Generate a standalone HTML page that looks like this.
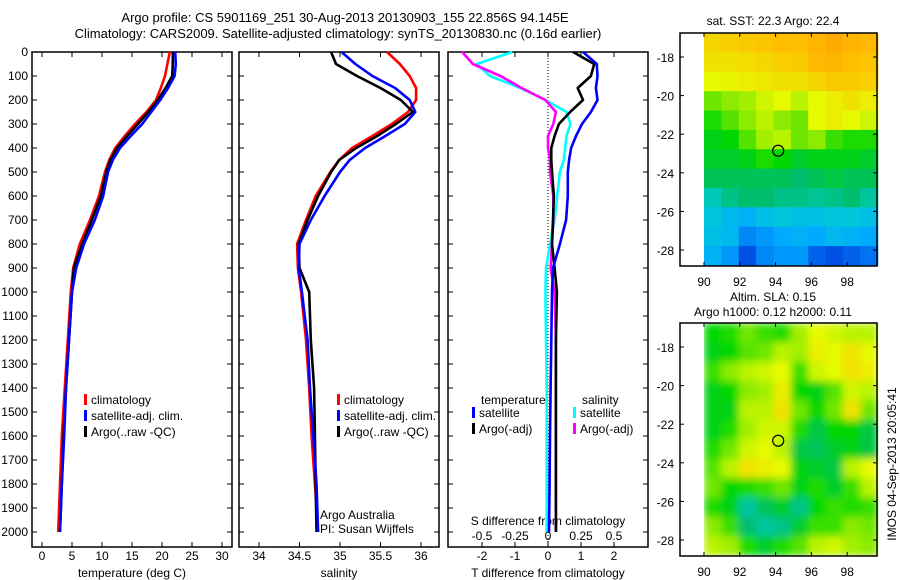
<!DOCTYPE html>
<html><head><meta charset="utf-8"><style>
body{margin:0;background:#fff;}
svg{display:block;font-family:"Liberation Sans",sans-serif;font-size:12px;}
</style></head><body>
<svg id="c" width="900" height="580" viewBox="0 0 900 580">
<text x="345" y="22" text-anchor="middle" font-size="13">Argo profile: CS 5901169_251 30-Aug-2013 20130903_155 22.856S 94.145E</text>
<text x="338" y="38" text-anchor="middle" font-size="13">Climatology: CARS2009. Satellite-adjusted climatology: synTS_20130830.nc (0.16d earlier)</text>
<g id="g"></g>
</svg>
<script>
const depths=[0,50,100,150,200,250,300,350,400,450,500,600,700,800,900,1000,1200,1400,1600,1800,2000];
const tClim=[21.3,20.9,20.5,19.8,19,17.4,15.5,13.8,12.2,11.2,10.5,9.5,8,6.3,5.2,4.8,4.3,3.8,3.3,3,2.7];
const tSat=[22.2,22.3,22.1,21,19.7,18.2,16.7,14.8,13,11.8,11,10.2,8.8,7,5.7,5,4.5,4,3.7,3.3,3];
const tArgo=[21.8,21.8,21.7,20.6,19.3,17.7,16,14.2,12.5,11.4,10.7,9.8,8.3,6.7,5.3,5,4.5,4,3.6,3.3,3];
const sClim=[35.58,35.74,35.86,35.94,35.94,35.84,35.64,35.4,35.15,34.99,34.88,34.7,34.58,34.47,34.48,34.52,34.58,34.62,34.65,34.69,34.73];
const sSat=[35.02,35.19,35.4,35.68,35.86,35.93,35.8,35.56,35.31,35.12,35.0,34.81,34.64,34.5,34.49,34.53,34.6,34.63,34.67,34.71,34.73];
const sArgo=[34.89,34.95,35.21,35.5,35.75,35.9,35.69,35.46,35.2,34.99,34.89,34.73,34.6,34.49,34.5,34.62,34.64,34.68,34.69,34.7,34.71];
const dTsat=[1.06,1.48,1.5,1.45,1.5,1.3,1.03,0.85,0.7,0.64,0.6,0.6,0.55,0.36,0.15,0.12,0.1,0.08,0.06,0.05,0.03];
const dTargo=[0.76,1.4,1.3,0.9,1.06,0.67,0.33,0.2,0.1,0.1,0.12,0.18,0.15,0.12,0.2,0.27,0.24,0.24,0.24,0.24,0.24];
const dSsat=[-0.27,-0.54,-0.44,-0.21,-0.02,0.14,0.17,0.14,0.13,0.12,0.09,0.07,0.05,0.015,-0.015,-0.02,-0.015,-0.01,-0.01,-0.01,-0.01];
const dSargo=[-0.65,-0.57,-0.36,-0.2,-0.02,0.06,0.04,0,0,0.015,0.015,0.04,0.04,0.03,0.02,0.05,0.06,0.06,0.06,0.06,0.06];
const depthTicks=[0,100,200,300,400,500,600,700,800,900,1000,1100,1200,1300,1400,1500,1600,1700,1800,1900,2000];
const tTicks=[0,5,10,15,20,25,30];
const sTicks=[34,34.5,35,35.5,36];
const dTTicks=[-2,-1,0,1,2];
const dSTicks=[-0.5,-0.25,0,0.25,0.5];
const dSTickLabels=["-0.5","-0.25","0","0.25","0.5"];
const lonTicks=[90,92,94,96,98];
const latTicks=[-18,-20,-22,-24,-26,-28];
const sstGrid=[
[0.82,0.83,0.84,0.85,0.86,0.86,0.88,0.9,0.88,0.87],
[0.8,0.8,0.81,0.82,0.83,0.84,0.87,0.88,0.86,0.85],
[0.76,0.77,0.78,0.79,0.8,0.8,0.82,0.84,0.84,0.83],
[0.66,0.68,0.7,0.74,0.76,0.72,0.76,0.78,0.8,0.78],
[0.6,0.64,0.68,0.72,0.68,0.66,0.76,0.78,0.76,0.74],
[0.56,0.58,0.64,0.7,0.72,0.66,0.68,0.62,0.6,0.6],
[0.54,0.54,0.56,0.6,0.58,0.54,0.56,0.56,0.56,0.54],
[0.5,0.5,0.5,0.5,0.5,0.48,0.5,0.52,0.5,0.5],
[0.42,0.46,0.48,0.48,0.46,0.46,0.45,0.46,0.48,0.44],
[0.38,0.34,0.32,0.36,0.38,0.36,0.36,0.38,0.38,0.36],
[0.36,0.34,0.26,0.28,0.3,0.32,0.3,0.34,0.32,0.3],
[0.32,0.28,0.2,0.26,0.28,0.28,0.22,0.2,0.22,0.24]];
const slaGrid=[
[0.58,0.6,0.66,0.62,0.6,0.7,0.76,0.74,0.72,0.72],
[0.56,0.58,0.64,0.66,0.72,0.7,0.78,0.76,0.8,0.76],
[0.62,0.68,0.72,0.74,0.76,0.62,0.74,0.76,0.8,0.78],
[0.56,0.58,0.68,0.7,0.78,0.58,0.56,0.64,0.74,0.72],
[0.56,0.56,0.72,0.72,0.8,0.66,0.58,0.66,0.8,0.66],
[0.56,0.6,0.7,0.74,0.74,0.6,0.52,0.58,0.58,0.52],
[0.6,0.66,0.74,0.76,0.72,0.52,0.5,0.54,0.56,0.52],
[0.64,0.72,0.8,0.78,0.76,0.56,0.54,0.52,0.72,0.76],
[0.66,0.58,0.6,0.62,0.66,0.56,0.6,0.54,0.62,0.72],
[0.6,0.56,0.44,0.5,0.54,0.46,0.58,0.62,0.6,0.62],
[0.68,0.62,0.48,0.44,0.46,0.54,0.62,0.62,0.68,0.66],
[0.72,0.7,0.6,0.54,0.6,0.64,0.72,0.74,0.7,0.68]];
const argoLon=94.145, argoLat=-22.856;

const NS="http://www.w3.org/2000/svg";
const G=document.getElementById('g');
function el(t,a,p){const e=document.createElementNS(NS,t);for(const k in a)e.setAttribute(k,a[k]);(p||G).appendChild(e);return e;}
function txt(x,y,s,a,p){const e=el('text',Object.assign({x:x,y:y},a||{}),p);e.textContent=s;return e;}
const yD=d=>52+d*0.24;
const xT=t=>42+t*6.0;
const xS=s=>259+(s-34)*81;
const xDT=t=>548+t*33;
const xDS=s=>548+s*132;

function frame(x0,name){
  const r=el('rect',{x:x0,y:52,width:200,height:495,fill:'none',stroke:'#000','stroke-width':1.5});
  
  depthTicks.forEach(d=>{el('line',{x1:x0,x2:x0+5,y1:yD(d),y2:yD(d),stroke:'#000'});el('line',{x1:x0+200,x2:x0+195,y1:yD(d),y2:yD(d),stroke:'#000'});});
}
frame(32,'temperature-panel');frame(239,'salinity-panel');frame(448,'difference-panel');
depthTicks.forEach(d=>{const t=txt(28,yD(d)+4,String(d),{'text-anchor':'end'});});
function xticks(arr,f,labels,y,top){arr.forEach((v,i)=>{const x=f(v);el('line',{x1:x,x2:x,y1:547,y2:542,stroke:'#000'});if(top)el('line',{x1:x,x2:x,y1:52,y2:57,stroke:'#000'});const t=txt(x,y,labels?labels[i]:String(v),{'text-anchor':'middle'});});}
xticks(tTicks,xT,null,560,true);
xticks(sTicks,xS,null,560,true);
xticks(dTTicks,xDT,null,560,true);
dSTicks.forEach((v,i)=>{const t=txt(xDS(v),540,dSTickLabels[i],{'text-anchor':'middle'});});
let t;
t=txt(132,577,'temperature (deg C)',{'text-anchor':'middle'});
t=txt(339,577,'salinity',{'text-anchor':'middle'});
t=txt(548,577,'T difference from climatology',{'text-anchor':'middle'});
t=txt(548,525,'S difference from climatology',{'text-anchor':'middle'});
el('line',{x1:xDT(0),x2:xDT(0),y1:52,y2:547,stroke:'#000','stroke-dasharray':'1,2'});

function line(vals,fx,color,name){
  const p=vals.map((v,i)=>fx(v).toFixed(1)+','+yD(depths[i]).toFixed(1)).join(' ');
  const e=el('polyline',{points:p,fill:'none',stroke:color,'stroke-width':2.6,'stroke-linejoin':'round'});
  
}
line(tClim,xT,'#f00','temperature-climatology-line');line(tArgo,xT,'#000','temperature-argo-line');line(tSat,xT,'#00f','temperature-satellite-line');
line(sClim,xS,'#f00','salinity-climatology-line');line(sArgo,xS,'#000','salinity-argo-line');line(sSat,xS,'#00f','salinity-satellite-line');
line(dSsat,xDS,'#0ff','s-diff-satellite-line');line(dSargo,xDS,'#f0f','s-diff-argo-line');
line(dTargo,xDT,'#000','t-diff-argo-line');line(dTsat,xDT,'#00f','t-diff-satellite-line');

function legend(x,y,items,name){items.forEach((it,i)=>{const yy=y+i*16;el('rect',{x:x,y:yy-10,width:3,height:11,fill:it[1]});const e=txt(x+7,yy,it[0]);});}
legend(84,404,[['climatology','#f00'],['satellite-adj. clim.','#00f'],['Argo(..raw -QC)','#000']],'temperature-legend');
legend(337,404,[['climatology','#f00'],['satellite-adj. clim.','#00f'],['Argo(..raw -QC)','#000']],'salinity-legend');
t=txt(481,404,'temperature');
t=txt(582,404,'salinity');
legend(472,417,[['satellite','#00f'],['Argo(-adj)','#000']],'t-diff-legend');
legend(573,417,[['satellite','#0ff'],['Argo(-adj)','#f0f']],'s-diff-legend');
t=txt(320,519,'Argo Australia');
t=txt(320,533,'PI: Susan Wijffels');

function cmap(v){
  const st=[[0,[0,0,160]],[0.2,[0,80,230]],[0.3,[0,170,255]],[0.4,[0,205,210]],[0.48,[0,190,110]],[0.58,[0,215,0]],[0.68,[140,235,0]],[0.76,[230,250,0]],[0.86,[255,190,0]],[1,[255,120,0]]];
  for(let i=1;i<st.length;i++){if(v<=st[i][0]){const a=st[i-1],b=st[i],f=(v-a[0])/(b[0]-a[0]);return 'rgb('+a[1].map((c,k)=>Math.round(c+(b[1][k]-c)*f)).join(',')+')';}}
  return 'rgb(255,120,0)';
}
function map(y0,grid,name,blur){
  const xL=lon=>704+(lon-90)*17.9;
  const yL=lat=>y0+24+(-18-lat)*19.3;
  const top=-16.76, bot=-28.8;
  const g=el('g',{});
  if(blur){const f=el('filter',{id:'bl',x:0,y:0,width:1,height:1});el('feGaussianBlur',{stdDeviation:4,edgeMode:'duplicate'},f);g.setAttribute('filter','url(#bl)');}
  const rows=grid.length,cols=grid[0].length,lonW=(99.7-90)/cols,latH=(top-bot)/rows;
  grid.forEach((row,r)=>row.forEach((v,c)=>{
    const x=xL(90+c*lonW),y=yL(top-r*latH);
    const e=el('rect',{x:x.toFixed(1),y:y.toFixed(1),width:(lonW*17.9+0.6).toFixed(1),height:(latH*19.3+0.6).toFixed(1),fill:cmap(v)},g);
    
  }));
  const fr=el('rect',{x:680,y:y0,width:197,height:233,fill:'none',stroke:'#000','stroke-width':1.5});
  
  latTicks.forEach(l=>{const y=yL(l);el('line',{x1:680,x2:684,y1:y,y2:y,stroke:'#000'});el('line',{x1:877,x2:873,y1:y,y2:y,stroke:'#000'});const e=txt(674,y+5,String(l),{'text-anchor':'end'});});
  lonTicks.forEach(l=>{const x=xL(l);el('line',{x1:x,x2:x,y1:y0+233,y2:y0+229,stroke:'#000'});el('line',{x1:x,x2:x,y1:y0,y2:y0+4,stroke:'#000'});const e=txt(x,y0+253,String(l),{'text-anchor':'middle'});});
  const c=el('circle',{cx:xL(argoLon),cy:yL(argoLat),r:5.5,fill:'none',stroke:'#000','stroke-width':1.2});
  
}
map(33,sstGrid,'sst-map',false);
map(323,slaGrid,'sla-map',true);
t=txt(773,25,'sat. SST: 22.3 Argo: 22.4',{'text-anchor':'middle'});
t=txt(773,301,'Altim. SLA: 0.15',{'text-anchor':'middle'});
t=txt(773,316,'Argo h1000: 0.12 h2000: 0.11',{'text-anchor':'middle'});
t=txt(0,0,'IMOS 04-Sep-2013 20:05:41',{'text-anchor':'middle',transform:'translate(896,464) rotate(-90)'});
</script>
</body></html>
